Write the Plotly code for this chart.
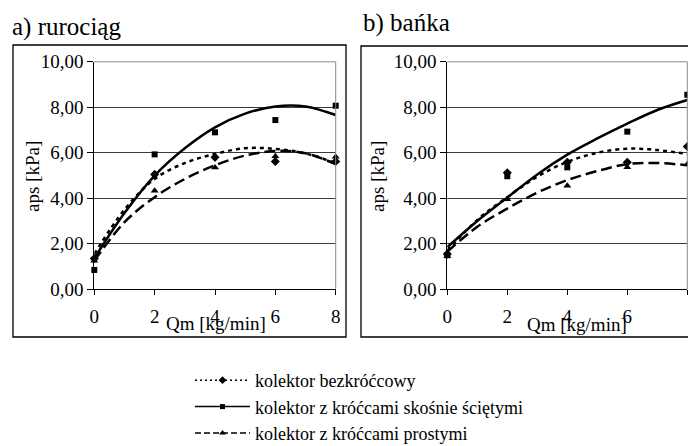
import plotly.graph_objects as go

# ---------------- data ----------------
x_pts = [0, 2, 4, 6, 8]
x_fit = [0, 1, 2, 3, 4, 5, 6, 7, 8]

# a) rurociąg - measured points
a_bez = [1.35, 5.05, 5.80, 5.62, 5.62]
a_sko = [0.85, 5.93, 6.90, 7.44, 8.07]
a_pro = [1.25, 4.33, 5.35, 5.85, 5.83]
# a) trend lines (read from picture)
a_bez_fit = [1.55, 3.50, 4.85, 5.55, 5.95, 6.20, 6.17, 5.97, 5.55]
a_sko_fit = [1.36, 3.35, 5.00, 6.20, 7.12, 7.72, 8.04, 8.04, 7.66]
a_pro_fit = [1.25, 2.95, 4.05, 4.85, 5.45, 5.88, 6.08, 5.98, 5.50]

# b) bańka - measured points
b_bez = [1.55, 5.12, 5.58, 5.58, 6.28]
b_sko = [1.50, 4.97, 5.36, 6.93, 8.55]
b_pro = [1.45, 3.96, 4.55, 5.36, 5.50]
# b) trend lines
b_bez_fit = [1.70, 3.05, 4.05, 4.95, 5.60, 6.00, 6.18, 6.12, 5.95]
b_sko_fit = [1.85, 3.00, 4.03, 5.05, 5.92, 6.63, 7.28, 7.88, 8.32]
b_pro_fit = [1.65, 2.75, 3.55, 4.25, 4.80, 5.20, 5.50, 5.55, 5.45]

y_ticks = [0, 2, 4, 6, 8, 10]
y_ticktext = ["0,00", "2,00", "4,00", "6,00", "8,00", "10,00"]
x_ticks = [0, 2, 4, 6, 8]

names = ["kolektor bezkróćcowy",
         "kolektor z króćcami skośnie ściętymi",
         "kolektor z króćcami prostymi"]
symbols = ["diamond", "square", "triangle-up"]
msizes = [7, 6, 7]
dashes = ["4px,4px", "solid", "11px,5px"]

FONT = "Liberation Serif, Times New Roman, serif"
W, H = 688, 446

fig = go.Figure()

panels = [
    ("x", "y", [a_bez, a_sko, a_pro], [a_bez_fit, a_sko_fit, a_pro_fit]),
    ("x2", "y2", [b_bez, b_sko, b_pro], [b_bez_fit, b_sko_fit, b_pro_fit]),
]
for xa, ya, pts, fits in panels:
    for i in range(3):
        fig.add_trace(go.Scatter(
            x=x_fit, y=fits[i], xaxis=xa, yaxis=ya, mode="lines",
            line=dict(color="black", width=2.5, dash=dashes[i], shape="spline", smoothing=1.0),
            showlegend=False, hoverinfo="skip"))
    for i in range(3):
        fig.add_trace(go.Scatter(
            x=x_pts, y=pts[i], xaxis=xa, yaxis=ya, mode="markers",
            marker=dict(symbol=symbols[i], size=msizes[i], color="black"),
            showlegend=False, cliponaxis=False))

# legend entries
for i in range(3):
    fig.add_trace(go.Scatter(
        x=[None], y=[None], mode="lines+markers", name=names[i],
        legendgroup="g%d" % i,
        line=dict(color="black", width=1.5, dash=["2px,3px", "solid", "6px,3px"][i]),
        marker=dict(symbol=symbols[i], size=[6, 5, 6][i], color="black"),
        showlegend=True))

xdomL = [94.3 / W, 335.7 / W]
xdomR = [447.3 / W, 687.3 / W]
ydom = [1 - 289.3 / H, 1 - 61.8 / H]

def xax(dom, anchor):
    return dict(domain=dom, anchor=anchor, range=[0, 8], tickvals=x_ticks,
                ticks="outside", ticklen=5, tickcolor="black", tickwidth=1,
                showline=True, linecolor="black", linewidth=1,
                showgrid=False, zeroline=False, automargin=False,
                tickfont=dict(family=FONT, size=19, color="black"),
                ticklabelstandoff=5)

def yax(dom, anchor):
    return dict(domain=dom, anchor=anchor, range=[0, 10], tickvals=y_ticks,
                ticktext=y_ticktext, ticks="outside", ticklen=6, tickcolor="black",
                tickwidth=1, showline=True, linecolor="black", linewidth=1,
                showgrid=True, gridcolor="#3a3a3a", gridwidth=1, zeroline=False,
                automargin=False,
                tickfont=dict(family=FONT, size=19, color="black"))

shapes = []
# panel frames
shapes.append(dict(type="rect", xref="paper", yref="paper",
                   x0=13 / W, x1=346 / W, y0=1 - 337 / H, y1=1 - 45 / H,
                   line=dict(color="black", width=1.3)))
shapes.append(dict(type="rect", xref="paper", yref="paper",
                   x0=361 / W, x1=1.06, y0=1 - 337 / H, y1=1 - 46 / H,
                   line=dict(color="black", width=1.3)))
# grey plot-area border (top and right)
for xr, yr in (("x domain", "y domain"), ("x2 domain", "y2 domain")):
    shapes.append(dict(type="line", xref=xr, yref=yr, x0=0, x1=1, y0=1, y1=1,
                       line=dict(color="#8a8a8a", width=1), layer="above"))
    shapes.append(dict(type="line", xref=xr, yref=yr, x0=1, x1=1, y0=0, y1=1,
                       line=dict(color="#8a8a8a", width=1), layer="above"))

annotations = [
    dict(text="a) rurociąg", x=10 / W, y=1 - 27 / H, xref="paper", yref="paper",
         xanchor="left", yanchor="middle", showarrow=False,
         font=dict(family=FONT, size=25, color="black")),
    dict(text="b) bańka", x=361 / W, y=1 - 23 / H, xref="paper", yref="paper",
         xanchor="left", yanchor="middle", showarrow=False,
         font=dict(family=FONT, size=25, color="black")),
    dict(text="Qm [kg/min]", x=215.5 / W, y=1 - 323 / H, xref="paper", yref="paper",
         xanchor="center", yanchor="middle", showarrow=False,
         font=dict(family=FONT, size=19, color="black")),
    dict(text="Qm [kg/min]", x=577 / W, y=1 - 324 / H, xref="paper", yref="paper",
         xanchor="center", yanchor="middle", showarrow=False,
         font=dict(family=FONT, size=19, color="black")),
    dict(text="aps [kPa]", x=33 / W, y=1 - 177 / H, xref="paper", yref="paper",
         xanchor="center", yanchor="middle", showarrow=False, textangle=-90,
         font=dict(family=FONT, size=19, color="black")),
    dict(text="aps [kPa]", x=378 / W, y=1 - 177 / H, xref="paper", yref="paper",
         xanchor="center", yanchor="middle", showarrow=False, textangle=-90,
         font=dict(family=FONT, size=19, color="black")),
]

fig.update_layout(
    template="none",
    width=W, height=H,
    margin=dict(l=0, r=0, t=0, b=0, autoexpand=False),
    paper_bgcolor="white", plot_bgcolor="white",
    font=dict(family=FONT, size=18, color="black"),
    xaxis=xax(xdomL, "y"), yaxis=yax(ydom, "x"),
    xaxis2=xax(xdomR, "y2"), yaxis2=yax(ydom, "x2"),
    shapes=shapes, annotations=annotations,
    showlegend=True,
    legend=dict(x=190 / W, y=1 - 362 / H, xanchor="left", yanchor="top",
                bgcolor="rgba(0,0,0,0)", tracegroupgap=0, itemwidth=55,
                borderwidth=0,
                font=dict(family=FONT, size=18, color="black")),
)

fig.write_html("out.html", config={"displayModeBar": False},
               post_script="document.body.style.margin='0px';document.body.style.overflow='hidden';")
